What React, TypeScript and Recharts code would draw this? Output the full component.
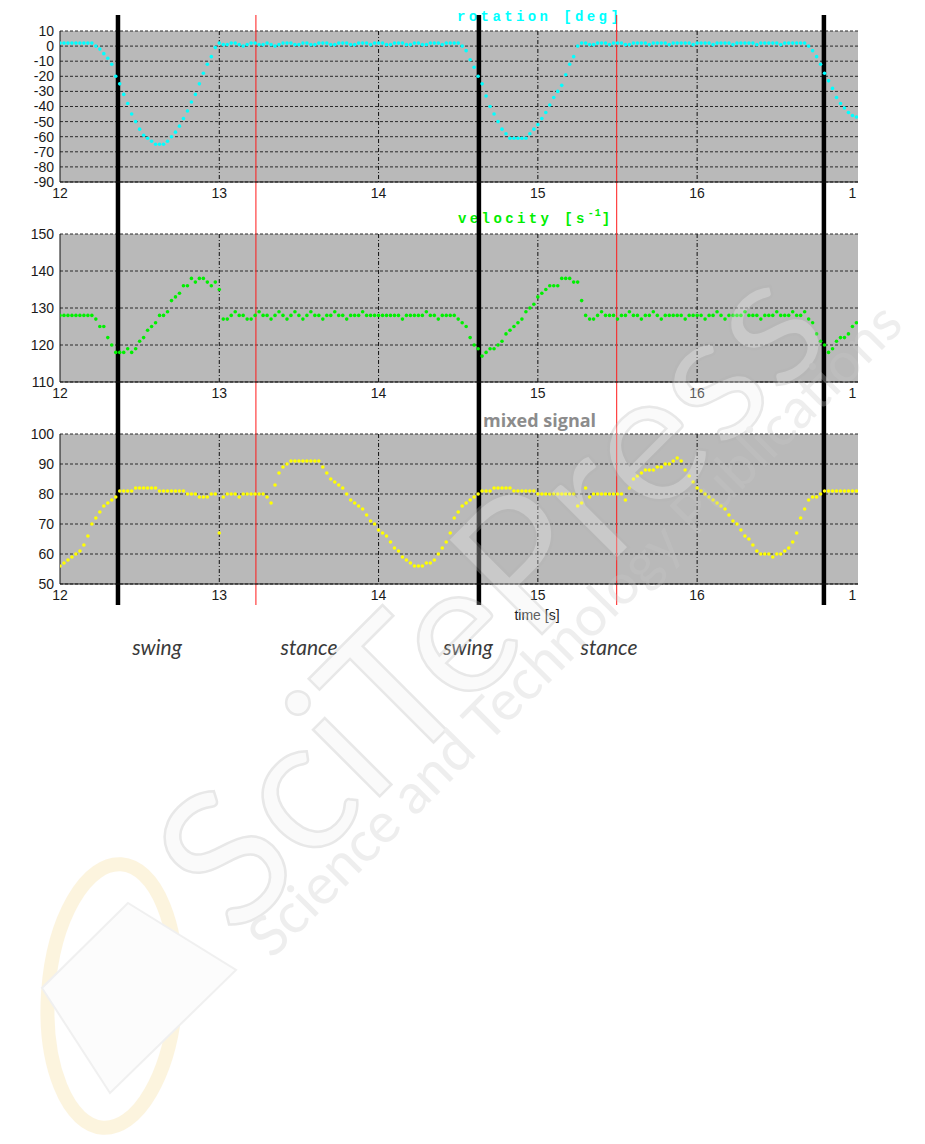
import React from "react"
import { ScatterChart, Scatter, XAxis, YAxis, CartesianGrid, ReferenceLine } from "recharts"

// samples every 25 ms starting at 12 s
const T0 = 12
const DT = 0.025

const rotation = [
  // 12.000 - 12.200
  2, 2, 2, 2, 2, 2, 2, 2, 2,
  // 12.225 - 13.000
  0, -2, -5, -8, -12, -20, -25, -32, -38, -45, -50, -55, -59, -61, -63, -65,
  -65, -65, -63, -60, -57, -53, -48, -43, -37, -32, -25, -18, -12, -7, -1, 2,
  // 13.025 - 14.475
  1, 1, 2, 2, 1, 0, 1, 2, 2, 1, 1, 2, 1, 0, 1, 2, 2, 2, 1, 1,
  2, 2, 1, 1, 2, 2, 2, 1, 1, 2, 2, 2, 1, 1, 2, 2, 2, 1, 2, 2,
  2, 1, 1, 2, 2, 2, 1, 1, 2, 2, 1, 1, 2, 2, 2, 1, 2, 2, 2,
  // 14.500 - 15.275
  2, 0, -3, -9, -14, -20, -25, -33, -40, -45, -50, -55, -58, -61, -61, -61,
  -61, -61, -58, -55, -52, -48, -44, -39, -34, -30, -26, -19, -12, -7, 0, 2,
  // 15.300 - 16.675
  2, 1, 1, 2, 2, 2, 1, 2, 2, 2, 1, 1, 2, 2, 2, 2, 1, 2, 2, 2,
  2, 1, 2, 2, 2, 2, 2, 1, 2, 2, 2, 2, 1, 2, 2, 2, 2, 1, 2, 2,
  2, 2, 2, 1, 2, 2, 2, 2, 2, 1, 2, 2, 2, 2, 2, 2,
  // 16.700 - 17.000
  0, -3, -7, -12, -18, -23, -28, -34, -38, -41, -44, -46, -47,
]

const velocity = [
  // 12.000 - 12.200
  128, 128, 128, 128, 128, 128, 128, 128, 128,
  // 12.225 - 13.100
  127, 125, 125, 122, 120, 118, 118, 118, 119, 118, 119, 121, 122, 124, 125, 126,
  128, 128, 129, 132, 133, 134, 136, 136, 138, 137, 138, 138, 137, 136, 137, 135,
  127, 127, 128, 129,
  // 13.125 - 14.450
  128, 128, 127, 127, 128, 129, 128, 128, 127, 128, 129, 128, 127, 128, 129, 128, 127, 128, 129, 128,
  128, 127, 128, 128, 129, 128, 128, 127, 128, 128, 128, 129, 128, 128, 128, 128, 128, 128, 128, 128,
  128, 127, 128, 128, 128, 128, 128, 129, 128, 128, 127, 128, 128, 128,
  // 14.475 - 15.425
  128, 127, 126, 125, 122, 120, 119, 117, 118, 119, 119, 120, 121, 123, 124, 125, 126, 127, 129, 130,
  131, 133, 134, 135, 136, 136, 136, 138, 138, 138, 137, 137, 132, 128, 127, 127, 128, 129, 128,
  // 15.450 - 16.675
  128, 128, 127, 128, 128, 129, 128, 128, 127, 128, 128, 129, 128, 127, 128, 128, 128, 128, 128, 127,
  128, 128, 128, 128, 127, 128, 128, 129, 128, 127, 128, 128, 128, 128, 129, 128, 128, 128, 127, 128,
  128, 128, 129, 128, 128, 128, 129, 128, 128, 129,
  // 16.700 - 17.000
  127, 126, 123, 121, 120, 118, 119, 121, 122, 122, 123, 125, 126,
]

const mixed = [
  // 12.000 - 12.975
  56, 57, 58, 59, 60, 61, 63, 66, 70, 72, 74, 76, 77, 78, 79, 81, 81, 81, 81, 82,
  82, 82, 82, 82, 82, 81, 81, 81, 81, 81, 81, 81, 80, 80, 80, 79, 79, 79, 80, 80,
  // 13.000 - 13.975
  67, 79, 80, 80, 80, 79, 80, 80, 80, 80, 80, 80, 79, 77, 83, 87, 89, 90, 91, 91,
  91, 91, 91, 91, 91, 91, 89, 87, 85, 84, 83, 82, 80, 78, 77, 76, 75, 73, 71, 70,
  // 14.000 - 14.975
  68, 67, 66, 64, 62, 61, 59, 58, 57, 56, 56, 56, 57, 57, 58, 60, 62, 64, 67, 72,
  74, 76, 77, 78, 79, 80, 81, 81, 81, 82, 82, 82, 82, 82, 81, 81, 81, 81, 81, 81,
  // 15.000 - 15.975
  80, 80, 80, 80, 80, 80, 80, 80, 80, 80, 76, 77, 82, 79, 80, 80, 80, 80, 80, 80,
  80, 80, 78, 82, 85, 86, 87, 88, 88, 88, 89, 89, 90, 90, 91, 92, 91, 88, 86, 84,
  // 16.000 - 17.000
  82, 81, 80, 79, 78, 77, 76, 75, 73, 71, 70, 68, 66, 65, 63, 61, 60, 60, 60, 59,
  60, 60, 61, 62, 64, 67, 72, 75, 78, 79, 79, 80, 81, 81, 81, 81, 81, 81, 81, 81, 81,
]

const timeTicks = [12, 13, 14, 15, 16, 17]
const rotationTicks = [10, 0, -10, -20, -30, -40, -50, -60, -70, -80, -90]
const velocityTicks = [150, 140, 130, 120, 110]
const mixedTicks = [100, 90, 80, 70, 60, 50]

// phase boundaries [s]: black = swing starts, red = stance starts
const swingStarts = [12.364, 14.63, 16.796]
const stanceStarts = [13.23, 15.495]

const toPoints = (values: number[]) =>
  values.map((v, i) => ({ t: +(T0 + i * DT).toFixed(3), v }))

const tickFont = "'Liberation Sans Narrow', 'Liberation Sans', Arial, sans-serif"
const monoFont = "'Liberation Mono', 'DejaVu Sans Mono', monospace"

const TimeTick = (props: any) => {
  const { x, y, payload } = props
  const last = payload.value === 17
  return (
    <text
      x={x}
      y={y}
      dy="0.71em"
      textAnchor={last ? "end" : "middle"}
      fill="#1a1a1a"
      fontSize={14}
      fontFamily={tickFont}
    >
      {last ? "1" : payload.value}
    </text>
  )
}

const makeDot = (color: string) => (props: any) =>
  <circle cx={props.cx} cy={props.cy} r={1.8} fill={color} />

interface PanelProps {
  data: { t: number; v: number }[]
  color: string
  domain: [number, number]
  ticks: number[]
  height: number
  top: number
  axisHeight: number
  lineFrom: number
  lineTo: number
}

function Panel({ data, color, domain, ticks, height, top, axisHeight, lineFrom, lineTo }: PanelProps) {
  return (
    <ScatterChart width={925} height={height} margin={{ top, right: 67, bottom: 0, left: 0 }}>
      <CartesianGrid
        vertical={false}
        horizontalValues={ticks}
        fill="#b9b9b9"
        fillOpacity={1}
        stroke="#2a2a2a"
        strokeDasharray="3 2"
      />
      <CartesianGrid
        horizontal={false}
        verticalValues={[13, 14, 15, 16]}
        stroke="#111"
        strokeDasharray="4 2 1 2"
      />
      <XAxis
        type="number"
        dataKey="t"
        domain={[12, 17.01]}
        ticks={timeTicks}
        interval={0}
        allowDataOverflow
        height={axisHeight}
        tickSize={0}
        tickMargin={6}
        tick={<TimeTick />}
        axisLine={{ stroke: "#111" }}
      />
      <YAxis
        type="number"
        dataKey="v"
        domain={domain}
        ticks={ticks}
        interval={0}
        allowDataOverflow
        width={60}
        tickSize={0}
        tickMargin={6}
        tick={{ fontSize: 14, fill: "#1a1a1a", fontFamily: tickFont }}
        axisLine={{ stroke: "#111" }}
      />
      <Scatter data={data} shape={makeDot(color)} isAnimationActive={false} />
      {stanceStarts.map((x) => (
        <ReferenceLine
          key={"r" + x}
          segment={[{ x, y: lineFrom }, { x, y: lineTo }]}
          stroke="#ff1a1a"
          strokeWidth={1}
          ifOverflow="visible"
        />
      ))}
      {swingStarts.map((x) => (
        <ReferenceLine
          key={"b" + x}
          segment={[{ x, y: lineFrom }, { x, y: lineTo }]}
          stroke="#000"
          strokeWidth={4.5}
          ifOverflow="visible"
        />
      ))}
    </ScatterChart>
  )
}

export default function App() {
  const phaseStyle = {
    fontFamily: "Lato, 'Open Sans', sans-serif",
    fontStyle: "italic" as const,
    fontSize: 21,
    fill: "#3a3a3a",
  }
  return (
    <div style={{ position: "absolute", left: 0, top: 0, width: 925, height: 1144, background: "#fff", overflow: "hidden" }}>
      <svg width={925} height={1144} style={{ position: "absolute", left: 0, top: 0 }}>
        <text x={457} y={21} fill="#00ffff" fontFamily={monoFont} fontWeight="bold" fontSize={14} letterSpacing={3.4}>
          rotation [deg]
        </text>
        <text x={458} y={222.5} fill="#00ee00" fontFamily={monoFont} fontWeight="bold" fontSize={14} letterSpacing={3.4}>
          velocity [s
          <tspan fontSize={10} dy={-7} letterSpacing={1}>-1</tspan>
          <tspan dy={7}>]</tspan>
        </text>
        <text x={483} y={427} fill="#8c8c8c" fontFamily="'Open Sans', sans-serif" fontWeight="bold" fontSize={18}>
          mixed signal
        </text>
        <text x={537} y={620} textAnchor="middle" fill="#222" fontFamily={tickFont} fontSize={14}>
          time [s]
        </text>
        <text x={157} y={655} textAnchor="middle" style={phaseStyle}>swing</text>
        <text x={309} y={655} textAnchor="middle" style={phaseStyle}>stance</text>
        <text x={468} y={655} textAnchor="middle" style={phaseStyle}>swing</text>
        <text x={609} y={655} textAnchor="middle" style={phaseStyle}>stance</text>
      </svg>

      <div style={{ position: "absolute", left: 0, top: 0 }}>
        <Panel data={toPoints(rotation)} color="#00ffff" domain={[-90, 10]} ticks={rotationTicks}
          height={200} top={31} axisHeight={18} lineFrom={20.6} lineTo={-250} />
        <Panel data={toPoints(velocity)} color="#00f000" domain={[110, 150]} ticks={velocityTicks}
          height={200} top={34} axisHeight={18} lineFrom={200} lineTo={40} />
        <Panel data={toPoints(mixed)} color="#ffff00" domain={[50, 100]} ticks={mixedTicks}
          height={220} top={34} axisHeight={36} lineFrom={150} lineTo={43} />
      </div>

      {/* faint publisher watermark */}
      <svg width={925} height={1144} style={{ position: "absolute", left: 0, top: 0, pointerEvents: "none" }}>
        <g opacity={0.22}>
          <ellipse cx={112} cy={996} rx={64} ry={132} transform="rotate(4 112 996)"
            fill="none" stroke="#f4cf6e" strokeWidth={14} />
          <polygon points="128,903 236,970 110,1093 42,988" fill="#f4f4f4" stroke="#bdbdbd" strokeWidth={2} />
        </g>
        <g opacity={0.3}>
          <text transform="translate(236,940) rotate(-45)" fontFamily="Lato, sans-serif" fontSize={186}
            fill="#f0f0f0" stroke="#b4b4b4" strokeWidth={2.5}>
            SciTePress
          </text>
          <text transform="translate(272,960) rotate(-45)" fontFamily="Lato, sans-serif" fontSize={56}
            fill="#c8c8c8">
            Science and Technology Publications
          </text>
        </g>
      </svg>
    </div>
  )
}
